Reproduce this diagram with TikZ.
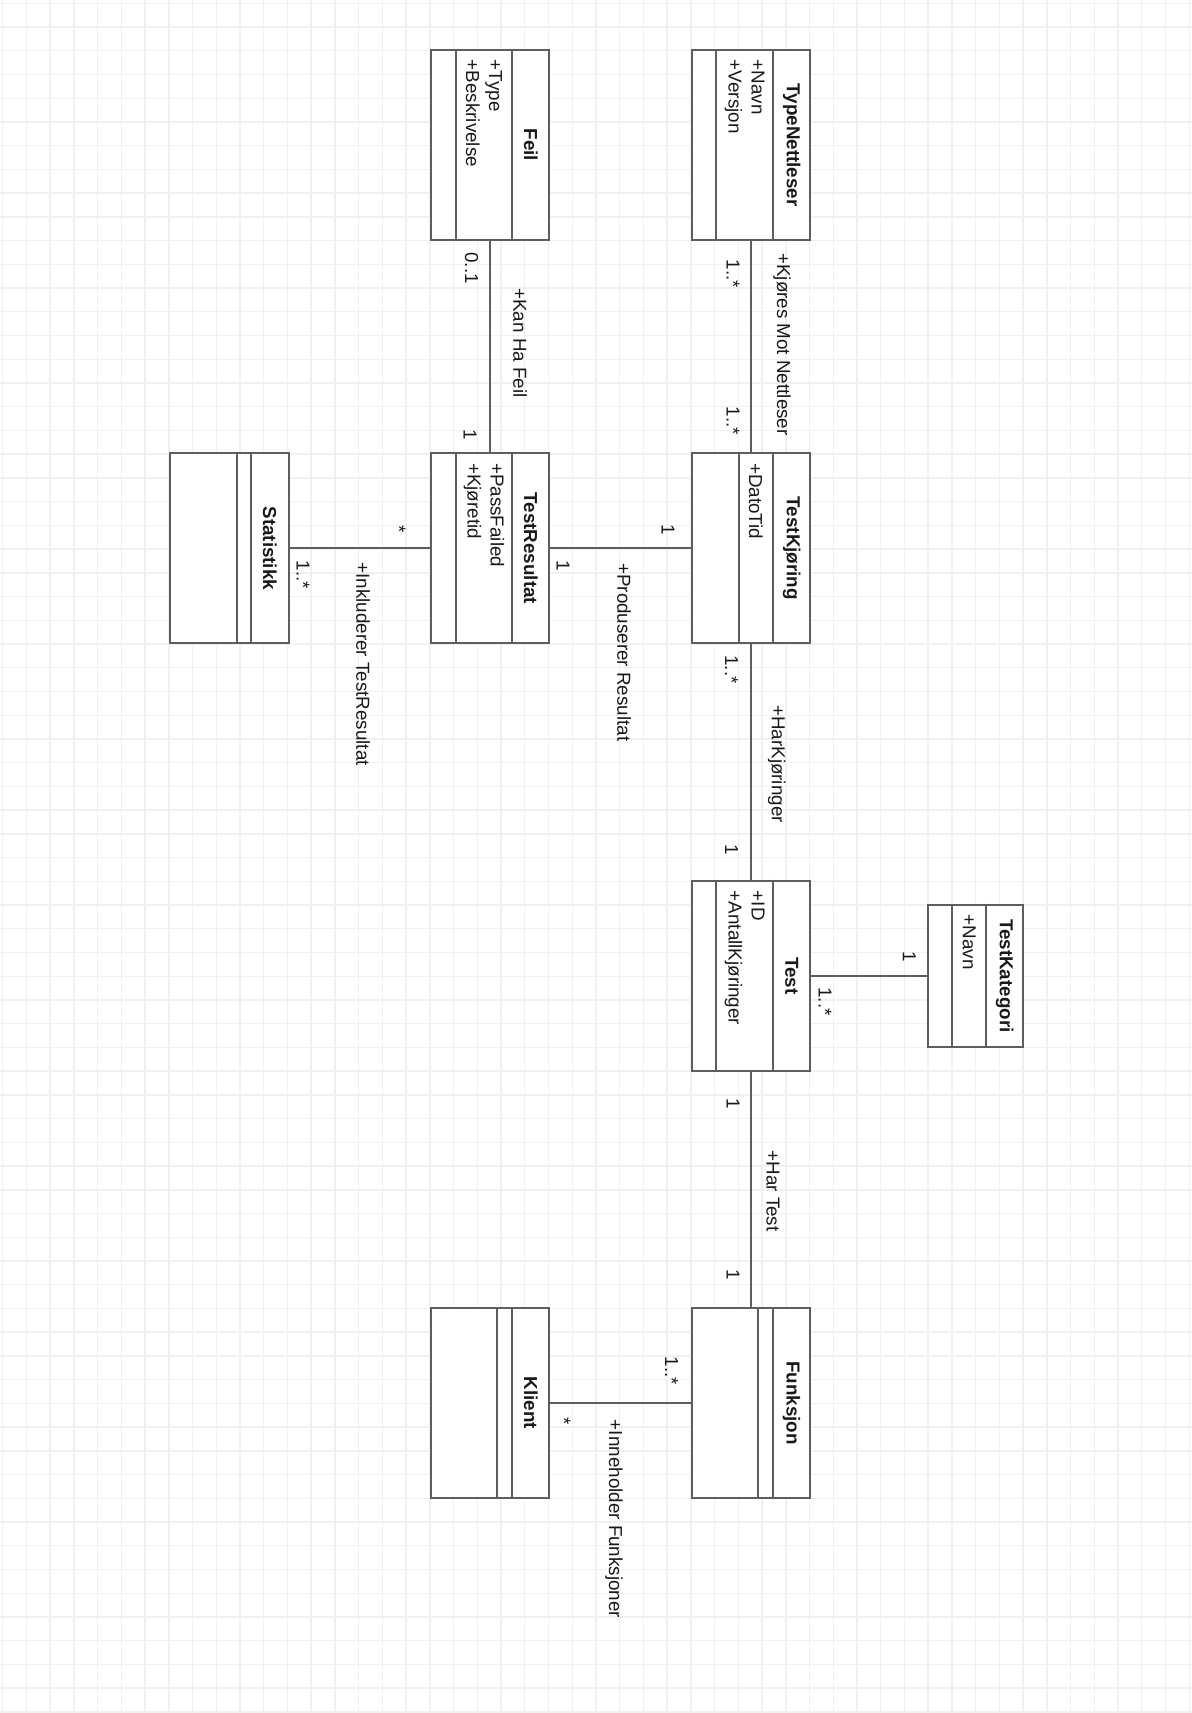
\documentclass[tikz,border=0pt]{standalone}
\usepackage{fontspec}
\setmainfont{Liberation Sans}
\usepackage{tikz}
\usetikzlibrary{positioning}
\usepackage{xcolor}
\definecolor{umlline}{HTML}{5E5E5E}
\definecolor{gridcol}{HTML}{F0F0F0}

\begin{document}
\begin{tikzpicture}[x=0.5pt, y=-0.5pt,
  every node/.style={font=\fontsize{9.4}{11.5}\selectfont, text=black!90, inner sep=0pt},
  umlclass/.style={draw=umlline, line width=1pt, fill=white, minimum width=59.3pt, minimum height=95pt},
  divider/.style={draw=umlline, line width=1pt},
  classname/.style={rotate=-90, font=\fontsize{9.4}{11.5}\selectfont\bfseries},
  attrs/.style={rotate=-90, align=left, anchor=west},
  role/.style={rotate=-90},
  mult/.style={rotate=-90},
  assoc/.style={draw=umlline, line width=1pt},
  gridline/.style={draw=gridcol, line width=0.7pt}]
% Canvas
\fill[white] (0,0) rectangle (1192,1713);
\useasboundingbox (0,0) rectangle (1192,1713);
\foreach \k in {0,...,50} \draw[gridline] ({2.7+23.73*\k},0) -- ({2.7+23.73*\k},1713);
\foreach \k in {0,...,72} \draw[gridline] (0,{3.3+23.73*\k}) -- (1192,{3.3+23.73*\k});
% Classes
\node[umlclass] (typenettleser) at (751.1,145) {};
\node[umlclass] (feil) at (489.9,145) {};
\node[umlclass] (testkjoring) at (751.1,548.3) {};
\node[umlclass] (testresultat) at (489.9,548.3) {};
\node[umlclass] (statistikk) at (229.2,548.3) {};
\node[umlclass] (test) at (751.1,975.9) {};
\node[umlclass, minimum width=47.5pt, minimum height=71.2pt] (testkategori) at (975.8,975.9) {};
\node[umlclass] (funksjon) at (751.1,1403) {};
\node[umlclass] (klient) at (489.9,1403) {};
% Compartments
\draw[divider] (773.3,0 |- typenettleser.north) -- (773.3,0 |- typenettleser.south);
\draw[divider] (716,0 |- typenettleser.north) -- (716,0 |- typenettleser.south);
\draw[divider] (512.3,0 |- feil.north) -- (512.3,0 |- feil.south);
\draw[divider] (455.7,0 |- feil.north) -- (455.7,0 |- feil.south);
\draw[divider] (772.7,0 |- testkjoring.north) -- (772.7,0 |- testkjoring.south);
\draw[divider] (739,0 |- testkjoring.north) -- (739,0 |- testkjoring.south);
\draw[divider] (512.3,0 |- testresultat.north) -- (512.3,0 |- testresultat.south);
\draw[divider] (455.7,0 |- testresultat.north) -- (455.7,0 |- testresultat.south);
\draw[divider] (251,0 |- statistikk.north) -- (251,0 |- statistikk.south);
\draw[divider] (236.7,0 |- statistikk.north) -- (236.7,0 |- statistikk.south);
\draw[divider] (773.3,0 |- test.north) -- (773.3,0 |- test.south);
\draw[divider] (716,0 |- test.north) -- (716,0 |- test.south);
\draw[divider] (986,0 |- testkategori.north) -- (986,0 |- testkategori.south);
\draw[divider] (952.3,0 |- testkategori.north) -- (952.3,0 |- testkategori.south);
\draw[divider] (772.7,0 |- funksjon.north) -- (772.7,0 |- funksjon.south);
\draw[divider] (757.7,0 |- funksjon.north) -- (757.7,0 |- funksjon.south);
\draw[divider] (512.3,0 |- klient.north) -- (512.3,0 |- klient.south);
\draw[divider] (497.3,0 |- klient.north) -- (497.3,0 |- klient.south);
% Names and attributes
\node[classname] (typenettleser-name) at (791.8,145) {TypeNettleser};
\node[attrs] (typenettleser-attrs) at (744.7,59.5) {+Navn\\+Versjon};
\node[classname] (feil-name) at (530.8,145) {Feil};
\node[attrs] (feil-attrs) at (484,59.5) {+Type\\+Beskrivelse};
\node[classname] (testkjoring-name) at (791.6,548.3) {TestKjøring};
\node[attrs] (testkjoring-attrs) at (755.9,462.8) {+DatoTid};
\node[classname] (testresultat-name) at (530.8,548.3) {TestResultat};
\node[attrs] (testresultat-attrs) at (484,462.8) {+PassFailed\\+Kjøretid};
\node[classname] (statistikk-name) at (269.8,548.3) {Statistikk};
\node[classname] (test-name) at (791.8,975.9) {Test};
\node[attrs] (test-attrs) at (744.7,890.4) {+ID\\+AntallKjøringer};
\node[classname] (testkategori-name) at (1004.7,975.9) {TestKategori};
\node[attrs] (testkategori-attrs) at (969.2,914.2) {+Navn};
\node[classname] (funksjon-name) at (791.6,1403) {Funksjon};
\node[classname] (klient-name) at (530.8,1403) {Klient};
% Associations
\draw[assoc] (feil) -- (testresultat);
\draw[assoc] (typenettleser) -- (testkjoring);
\draw[assoc] (testkjoring) -- (testresultat);
\draw[assoc] (testresultat) -- (statistikk);
\draw[assoc] (testkjoring) -- (test);
\draw[assoc] (test) -- (testkategori);
\draw[assoc] (test) -- (funksjon);
\draw[assoc] (funksjon) -- (klient);
% Roles
\node[role] (kanhafeil) at (520,343) {+Kan Ha Feil};
\node[role] (kjoresmot) at (782,344.5) {+Kjøres Mot Nettleser};
\node[role] (produserer) at (624,652.3) {+Produserer Resultat};
\node[role] (inkluderer) at (363,664.2) {+Inkluderer TestResultat};
\node[role] (harkjoringer) at (776.7,764) {+HarKjøringer};
\node[role] (hartest) at (773,1191) {+Har Test};
\node[role] (inneholder) at (614,1519) {+Inneholder Funksjoner};
% Multiplicities
\node[mult] (m-feil) at (471.7,268) {0..1};
\node[mult] (m-feil-res) at (470,435) {1};
\node[mult] (m-nett) at (733,274) {1..*};
\node[mult] (m-nett-kj) at (733,421) {1..*};
\node[mult] (m-kj-res) at (668,530) {1};
\node[mult] (m-res-kj) at (563,566) {1};
\node[mult] (m-res-stat) at (399,529) {*};
\node[mult] (m-stat) at (303,575) {1..*};
\node[mult] (m-kj-test) at (731.7,669.5) {1..*};
\node[mult] (m-test-kj) at (731.7,850) {1};
\node[mult] (m-kat) at (909.3,956.7) {1};
\node[mult] (m-test-kat) at (825,1001.5) {1..*};
\node[mult] (m-test-fn) at (733,1103.3) {1};
\node[mult] (m-fn-test) at (733,1275) {1};
\node[mult] (m-fn-kl) at (671.7,1371) {1..*};
\node[mult] (m-kl) at (564,1421) {*};
\end{tikzpicture}
\end{document}
